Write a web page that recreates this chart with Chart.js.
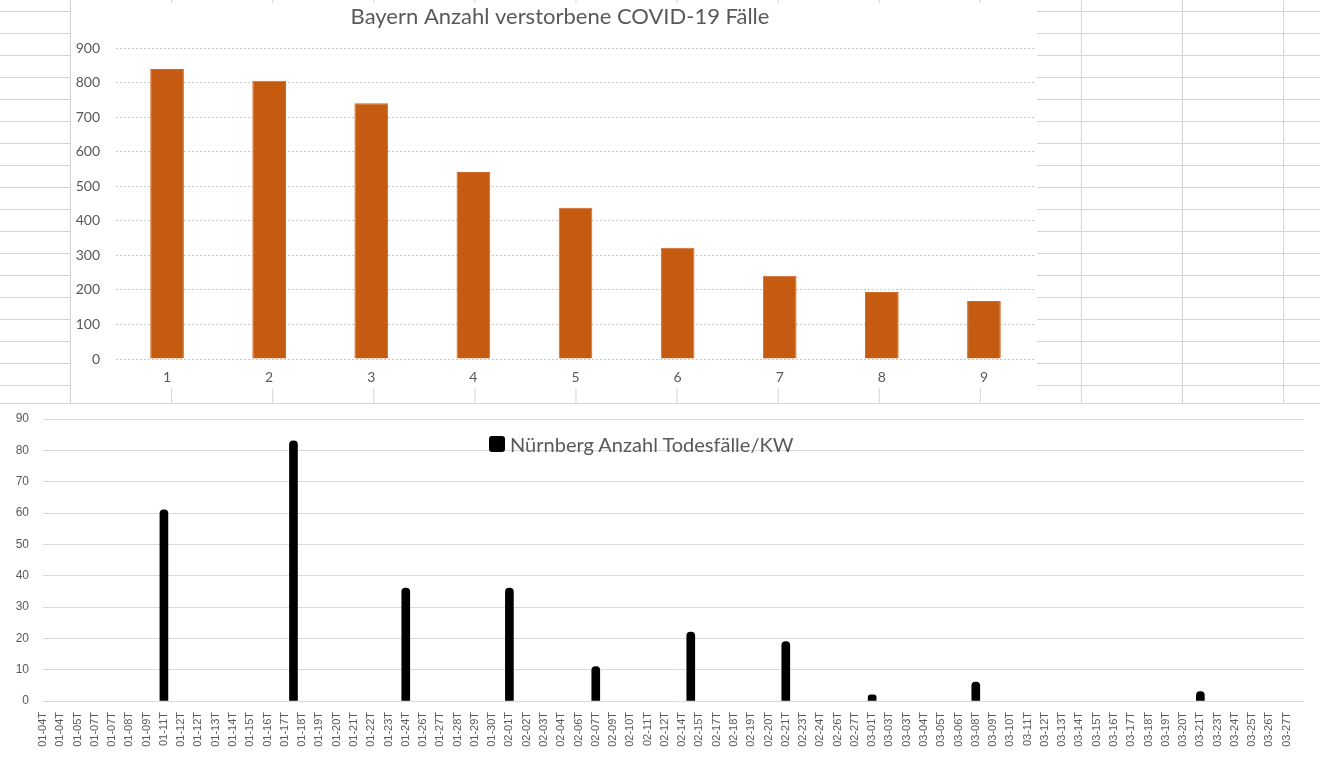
<!DOCTYPE html>
<html>
<head>
<meta charset="utf-8">
<script src="https://cdn.jsdelivr.net/npm/chart.js@4.4.0/dist/chart.umd.min.js"></script>
<style>
  html, body { margin: 0; padding: 0; background: #fff; }
  body { width: 1320px; height: 761px; position: relative; overflow: hidden; }
  /* spreadsheet cells behind the upper chart */
  #sheet {
    position: absolute; left: 0; top: 0; width: 1320px; height: 403px;
    background-image:
      linear-gradient(to right, #d4d4d4 1px, transparent 1px),
      linear-gradient(to bottom, #d4d4d4 1px, transparent 1px);
    background-size: 101.1px 100%, 100% 22px;
    background-position: 70px 0, 0 11px;
  }
  #topBox {
    position: absolute; left: 71px; top: 3px; width: 966px; height: 385px;
    background: #fff;
  }
  #topBox canvas { position: absolute; left: 0; top: 0; }
  #bottomBox {
    position: absolute; left: 0; top: 403px; width: 1320px; height: 358px;
    background: #fff; border-top: 1px solid #d4d4d4; box-sizing: border-box;
  }
  #bottomBox canvas { position: absolute; left: 0; top: 0; }
  #nbgLegend {
    position: absolute; left: 489px; top: 432px;
    font-family: Lato, sans-serif; font-size: 20px; color: #595959;
    display: flex; align-items: center; white-space: nowrap;
  }
  #nbgLegend .box {
    width: 16px; height: 16px; border-radius: 3px; background: #000;
    margin-right: 5px;
  }
</style>
</head>
<body>
<div id="sheet"></div>
<div id="topBox"><canvas id="bayernChart" width="978" height="385"></canvas></div>
<div id="bottomBox"><canvas id="nbgChart" width="1320" height="357"></canvas></div>
<div id="nbgLegend"></div>

<script>
// ---- Bayern (upper chart) ----
const bayernTitle = 'Bayern Anzahl verstorbene COVID-19 Fälle';
const bayernWeeks = ['1', '2', '3', '4', '5', '6', '7', '8', '9'];
const bayernDeaths = [840, 806, 741, 542, 438, 322, 241, 194, 168];

// ---- Nürnberg (lower chart) ----
const nbgLabel = 'Nürnberg Anzahl Todesfälle/KW';
const nbgDays = [
    '01-04T', '01-04T', '01-05T', '01-07T', '01-07T', '01-08T', '01-09T', '01-11T',
    '01-12T', '01-12T', '01-13T', '01-14T', '01-15T', '01-16T', '01-17T', '01-18T',
    '01-19T', '01-20T', '01-21T', '01-22T', '01-23T', '01-24T', '01-26T', '01-27T',
    '01-28T', '01-29T', '01-30T', '02-01T', '02-02T', '02-03T', '02-04T', '02-06T',
    '02-07T', '02-09T', '02-10T', '02-11T', '02-12T', '02-14T', '02-15T', '02-17T',
    '02-18T', '02-19T', '02-20T', '02-21T', '02-23T', '02-24T', '02-26T', '02-27T',
    '03-01T', '03-03T', '03-03T', '03-04T', '03-05T', '03-06T', '03-08T', '03-09T',
    '03-10T', '03-11T', '03-12T', '03-13T', '03-14T', '03-15T', '03-16T', '03-17T',
    '03-18T', '03-19T', '03-20T', '03-21T', '03-23T', '03-24T', '03-25T', '03-26T',
    '03-27T'
];
// position of each weekly bar on the day axis (index into nbgDays)
const nbgBarPos = [7, 14.5, 21, 27, 32, 37.5, 43, 48, 54, 67];
const nbgDeaths = [61, 83, 36, 36, 11, 22, 19, 2, 6, 3];

const textGrey = '#595959';
Chart.defaults.font.family = 'Lato, sans-serif';
Chart.defaults.color = textGrey;

const bayernChart = new Chart(document.getElementById('bayernChart'), {
    type: 'bar',
    data: {
        labels: bayernWeeks,
        datasets: [{
            label: 'Bayern',
            data: bayernDeaths,
            backgroundColor: '#C55A11',
            borderColor: '#D2682A',
            borderWidth: 1,
            categoryPercentage: 1,
            barPercentage: 0.33
        }]
    },
    options: {
        responsive: false,
        animation: false,
        layout: { padding: { left: 0, right: 0, top: 0, bottom: 0 } },
        plugins: {
            legend: { display: false },
            tooltip: { enabled: false },
            title: {
                display: true,
                text: bayernTitle,
                color: textGrey,
                font: { size: 22, weight: 'normal' },
                padding: { top: 1, bottom: 18 }
            }
        },
        scales: {
            x: {
                grid: { display: false, drawTicks: false },
                border: { display: false },
                ticks: { font: { size: 14 }, padding: 10 },
                afterFit: (s) => { s.height = 29; }
            },
            y: {
                min: 0,
                max: 900,
                ticks: { stepSize: 100, font: { size: 14 }, padding: 16 },
                grid: { color: '#c8c8c8', drawTicks: false },
                border: { display: false, dash: [2, 2] },
                afterFit: (s) => { s.width = 45; }
            },
            // empty strip on the right, keeps the title where Excel put it
            yRight: {
                position: 'right',
                grid: { display: false, drawTicks: false },
                border: { display: false },
                ticks: { display: false },
                afterFit: (s) => { s.width = 14; }
            }
        }
    }
});

const nbgChart = new Chart(document.getElementById('nbgChart'), {
    type: 'bar',
    data: {
        datasets: [{
            label: nbgLabel,
            data: nbgBarPos.map((p, i) => ({ x: p, y: nbgDeaths[i] })),
            backgroundColor: '#000',
            barThickness: 8,
            borderRadius: 4,
            borderSkipped: 'start'
        }]
    },
    options: {
        responsive: false,
        animation: false,
        layout: { padding: { left: 0, right: 16, top: 15, bottom: 0 } },
        plugins: {
            legend: { display: false },
            tooltip: { enabled: false }
        },
        scales: {
            x: {
                type: 'linear',
                min: 0,
                max: 73,
                offset: false,
                grid: { display: false, offset: false, drawTicks: false },
                border: { display: false },
                ticks: {
                    stepSize: 1,
                    autoSkip: false,
                    maxRotation: 90,
                    minRotation: 90,
                    padding: 11,
                    font: { family: '"Liberation Sans", Arial, sans-serif', size: 11 },
                    callback: (v) => nbgDays[Math.round(v)] || ''
                },
                afterFit: (s) => {
                    s.height = 60;
                    s.paddingLeft = 0;
                    s.paddingRight = 0;
                }
            },
            y: {
                min: 0,
                max: 90,
                ticks: {
                    stepSize: 10,
                    padding: 14,
                    font: { family: '"Liberation Sans", Arial, sans-serif', size: 12 }
                },
                grid: { color: '#d9d9d9', drawTicks: false },
                border: { display: false },
                afterFit: (s) => {
                    s.width = 43;
                    s.paddingTop = 0;
                    s.paddingBottom = 0;
                }
            }
        }
    }
});

// legend sits inside the plot area, built from the dataset
const lg = document.getElementById('nbgLegend');
nbgChart.data.datasets.forEach(ds => {
    lg.innerHTML = '<span class="box"></span><span>' + ds.label + '</span>';
});
</script>
</body>
</html>
